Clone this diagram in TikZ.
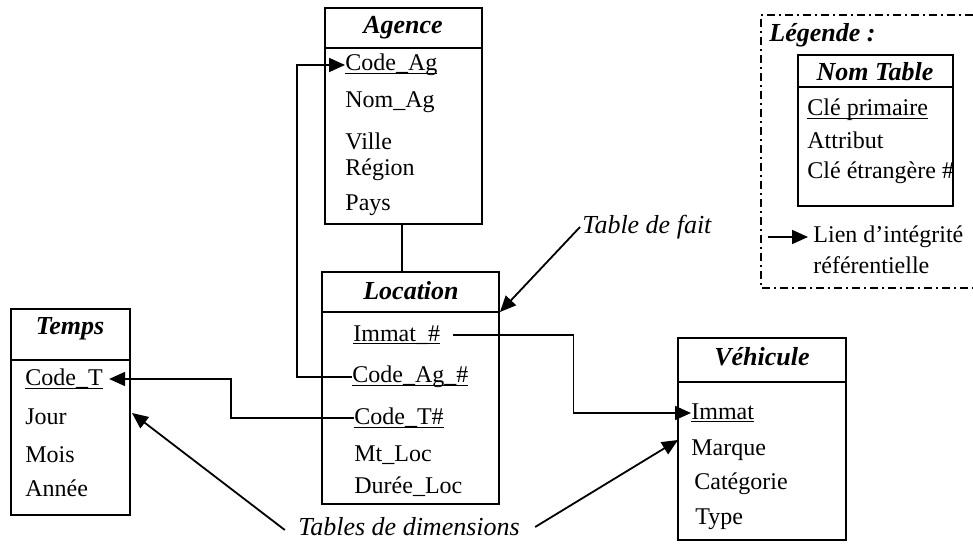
\documentclass[tikz,border=0pt]{standalone}
\usepackage{fontspec}
\setmainfont{Liberation Serif}
\usetikzlibrary{arrows.meta,fit}
\newcommand\ulin[1]{\setbox0\hbox{#1}\rlap{\rule[-1.6pt]{\wd0}{0.6pt}}#1}
\begin{document}
\begin{tikzpicture}[x=0.5pt,y=-0.5pt,
  tbox/.style={draw,line width=1pt,inner sep=0pt},
  hline/.style={line width=1pt},
  ttl/.style={inner sep=0pt,font=\fontsize{13}{15}\selectfont\bfseries\itshape},
  attr/.style={anchor=west,inner sep=0pt,font=\fontsize{12}{14}\selectfont},
  lbl/.style={inner sep=0pt,font=\fontsize{13}{15}\selectfont\itshape},
  lnk/.style={line width=0.9pt,-{Triangle[length=8pt,width=7pt]}},
  plain/.style={line width=0.9pt},
  leg/.style={line width=0.8pt,dash pattern=on 4pt off 2pt on 1pt off 2pt}]
\useasboundingbox (0,0) rectangle (973,544);

% ---------- Agence ----------
\node[tbox,fit={(325,8) (482,224)}] (agence) {};
\coordinate (agH) at (0,48);
\draw[hline] (agence.west |- agH) -- (agence.east |- agH);
\node[ttl] (agT) at (403,28) {Agence};
\node[attr] (agCode) at (345,65) {\ulin{Code\_Ag}};
\node[attr] (agNom) at (345,102) {Nom\_Ag};
\node[attr] (agVille) at (345,141) {Ville};
\node[attr] (agReg) at (345,170) {Région};
\node[attr] (agPays) at (345,205) {Pays};

% ---------- Location ----------
\node[tbox,fit={(322,272) (499,504)}] (location) {};
\coordinate (locH) at (0,312);
\draw[hline] (location.west |- locH) -- (location.east |- locH);
\node[ttl] (locTitle) at (411,291) {Location};
\node[attr] (locIm) at (353,335) {\ulin{Immat\_\#}};
\node[attr] (locAg) at (352,377) {\ulin{Code\_Ag\_\#}};
\node[attr] (locT) at (354,418) {\ulin{Code\_T\#}};
\node[attr] (locMt) at (354,455) {Mt\_Loc};
\node[attr] (locDur) at (354,487) {Durée\_Loc};

% ---------- Temps ----------
\node[tbox,fit={(11,309) (130,515)}] (temps) {};
\coordinate (tH) at (0,360);
\draw[hline] (temps.west |- tH) -- (temps.east |- tH);
\node[ttl] (tTitle) at (70,329) {Temps};
\node[attr] (tCode) at (25,379) {\ulin{Code\_T}};
\node[attr] (tJour) at (25,417) {Jour};
\node[attr] (tMois) at (25,455) {Mois};
\node[attr] (tAnnee) at (25,488) {Année};

% ---------- Vehicule ----------
\node[tbox,fit={(678,338) (846,540)}] (vehic) {};
\coordinate (vH) at (0,382);
\draw[hline] (vehic.west |- vH) -- (vehic.east |- vH);
\node[ttl] (vTitle) at (762,357) {Véhicule};
\node[attr] (vImm) at (691,413) {\ulin{Immat}};
\node[attr] (vMarque) at (691,450) {Marque};
\node[attr] (vCat) at (694,484) {Catégorie};
\node[attr] (vType) at (695,519) {Type};

% ---------- Legend ----------
\draw[leg] (973,15) -- (761,15) -- (761,288) -- (973,288);
\node[ttl,anchor=west] (legTitle) at (769,35) {Légende :};
\node[tbox,fit={(798,55) (953,206)}] (nomTable) {};
\coordinate (nH) at (0,87);
\draw[hline] (nomTable.west |- nH) -- (nomTable.east |- nH);
\node[ttl] (nTitle) at (875,72) {Nom Table};
\node[attr] (nPK) at (807,110) {\ulin{Clé primaire}};
\node[attr] (nAtt) at (807,140) {Attribut};
\node[attr] (nFK) at (807,173) {Clé étrangère \#};
\coordinate (legA) at (768,237);
\node[attr] (legT1) at (813,237) {Lien d’intégrité};
\node[attr] (legT2) at (813,265) {référentielle};
\draw[lnk] (legA) -- ([xshift=-2.5pt]legT1.west);

% ---------- Connectors ----------
\coordinate (agL) at (402,0);
\draw[plain] (agence.south -| agL) -- (location.north -| agL);
\draw[lnk] (locAg.west) -- ++(-55,0) |- (agCode.west);
\draw[lnk] (locT.west) -- ++(-123,0) |- ([xshift=3pt]tCode.east);
\draw[lnk] ([xshift=6.5pt]locIm.east) -- ++(120,0) |- (vImm.west);

% ---------- Labels ----------
\node[lbl,anchor=west] (fait) at (582,227) {Table de fait};
\draw[lnk] ([xshift=-1pt]fait.west) -- (location.east |- locH);
\node[lbl] (dim) at (409,527) {Tables de dimensions};
\coordinate (tTip) at (132,413);
\coordinate (vTip) at (678,440);
\draw[lnk] ([xshift=-6.5pt,yshift=-1.5pt]dim.west) -- (tTip);
\draw[lnk] ([xshift=7.5pt]dim.east) -- (vTip);
\end{tikzpicture}
\end{document}
